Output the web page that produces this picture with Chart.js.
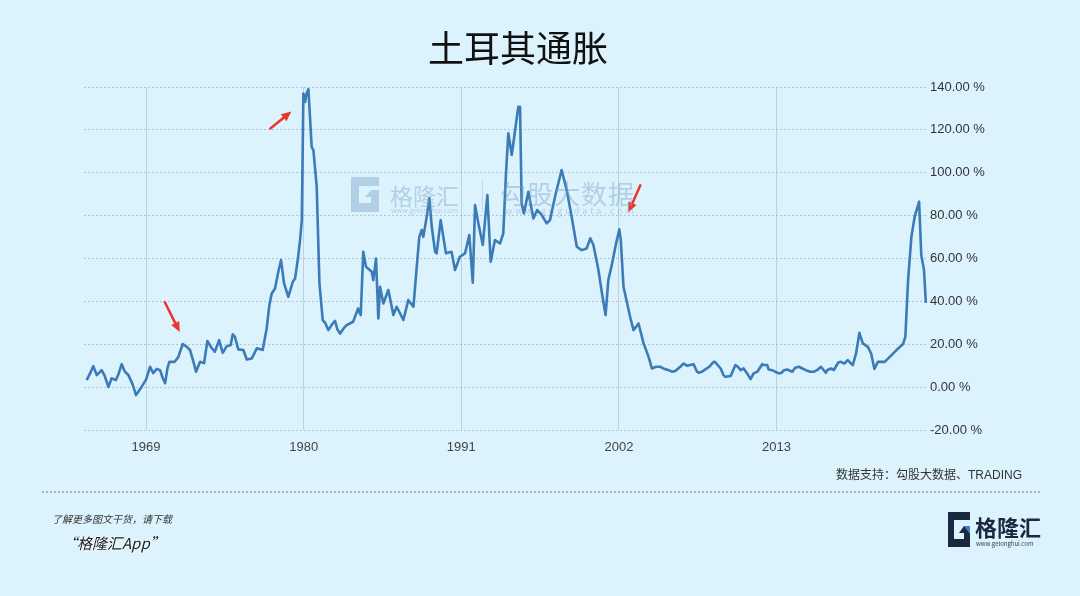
<!DOCTYPE html>
<html>
<head>
<meta charset="utf-8">
<script src="https://cdn.jsdelivr.net/npm/chart.js@4/dist/chart.umd.min.js"></script>
<style>
  body { margin: 0; background: #dcf3fd; }
  #wrap { position: relative; width: 1080px; height: 596px; overflow: hidden; background: #dcf3fd; font-family: "Noto Sans CJK SC", "Noto Sans", sans-serif; }
  #chart { position: absolute; left: 0; top: 0; }
  .abs { position: absolute; white-space: nowrap; }
  #title { left: 0; width: 1036px; top: 20px; text-align: center; font-size: 36px; color: #111; }
  #source { right: 58px; top: 465px; font-size: 12px; color: #333; font-family: "Liberation Sans", "Noto Sans CJK SC", sans-serif; }
  #sep { left: 42px; width: 998px; top: 491px; border-top: 2px dotted #aab4ba; }
  #more { left: 52px; top: 511px; font-size: 10px; font-style: italic; color: #333; }
  #app { left: 62px; top: 532px; font-size: 15px; font-style: italic; color: #222; text-shadow: 0 0 2px #fff, 0 0 2px #fff; }
  .wm { color: rgba(120, 160, 195, 0.42); }
</style>
</head>
<body>
<div id="wrap">
  <canvas id="chart" width="1080" height="596"></canvas>
  <div id="title" class="abs">土耳其通胀</div>

  <!-- watermark -->
  <svg class="abs" style="left:347px;top:177px" width="36" height="35" viewBox="0 0 36 35">
    <path d="M4 0 H32 V9 H12 V26 H24 V20 H18 L24 13 H32 V35 H4 Z" fill="rgba(120,160,195,0.42)"/>
  </svg>
  <div class="abs wm" style="left:390px;top:178px;font-size:23px">格隆汇</div>
  <div class="abs wm" style="left:391px;top:205px;font-size:7px">www.gelonghui.com</div>
  <div class="abs" style="left:482px;top:180px;width:1px;height:32px;background:rgba(120,160,195,0.3)"></div>
  <div class="abs wm" style="left:500px;top:174px;font-size:26px;letter-spacing:1px">勾股大数据</div>
  <div class="abs wm" style="left:505px;top:204px;font-size:9px;letter-spacing:3px">www.gogudata.com</div>

  <div id="source" class="abs">数据支持：勾股大数据、TRADING</div>
  <div id="sep" class="abs"></div>
  <div id="more" class="abs">了解更多图文干货，请下载</div>
  <div id="app" class="abs">“格隆汇App”</div>

  <!-- footer logo -->
  <svg class="abs" style="left:945px;top:512px" width="28" height="35" viewBox="0 0 28 35">
    <path d="M3 0 H25 V8 H9 V27 H19 V21 H14 L19 14 H25 V35 H3 Z" fill="#1c2740"/>
    <path d="M19 14 L25 14 L25 22 Z" fill="#3a7fd0"/>
  </svg>
  <div class="abs" style="left:975px;top:510px;font-size:22px;font-weight:bold;color:#1c2740">格隆汇</div>
  <div class="abs" style="left:976px;top:539px;font-size:6px;color:#444">www.gelonghui.com</div>
</div>

<script>
// Turkey CPI inflation, % y/y
const years = [
  1964.86, 1965.10, 1965.32, 1965.56, 1965.90, 1966.10, 1966.37, 1966.60, 1966.90, 1967.10,
  1967.30, 1967.50, 1967.77, 1968.05, 1968.30, 1968.70, 1969.00, 1969.28, 1969.50, 1969.75,
  1969.98, 1970.15, 1970.33, 1970.50, 1970.63, 1971.00, 1971.25, 1971.56, 1971.80, 1972.07,
  1972.30, 1972.49, 1972.77, 1973.05, 1973.28, 1973.55, 1973.80, 1974.10, 1974.35, 1974.63,
  1974.90, 1975.05, 1975.20, 1975.44, 1975.79, 1976.03, 1976.38, 1976.73, 1977.14, 1977.42,
  1977.60, 1977.77, 1978.00, 1978.23, 1978.42, 1978.63, 1978.93, 1979.24, 1979.40, 1979.60,
  1979.75, 1979.87, 1979.98, 1980.10, 1980.20, 1980.33, 1980.56, 1980.68, 1980.91, 1981.10,
  1981.33, 1981.50, 1981.72, 1981.95, 1982.19, 1982.35, 1982.54, 1982.80, 1983.00, 1983.45,
  1983.80, 1983.98, 1984.16, 1984.35, 1984.55, 1984.75, 1984.86, 1985.05, 1985.21, 1985.33,
  1985.56, 1985.91, 1986.26, 1986.49, 1986.96, 1987.30, 1987.66, 1987.89, 1988.07, 1988.24,
  1988.35, 1988.60, 1988.77, 1988.94, 1989.17, 1989.28, 1989.56, 1989.93, 1990.32, 1990.56,
  1990.90, 1991.26, 1991.56, 1991.80, 1991.96, 1992.19, 1992.50, 1992.82, 1993.05, 1993.35,
  1993.70, 1993.93, 1994.12, 1994.28, 1994.52, 1994.98, 1995.10, 1995.21, 1995.37, 1995.68,
  1996.03, 1996.30, 1996.61, 1996.96, 1997.19, 1997.54, 1998.00, 1998.36, 1998.70, 1999.06,
  1999.40, 1999.75, 2000.00, 2000.22, 2000.56, 2000.80, 2001.07, 2001.26, 2001.50, 2001.80,
  2002.03, 2002.13, 2002.32, 2002.55, 2002.78, 2003.02, 2003.37, 2003.72, 2004.07, 2004.30,
  2004.60, 2004.88, 2005.10, 2005.47, 2005.70, 2005.93, 2006.28, 2006.52, 2006.75, 2007.21,
  2007.45, 2007.56, 2007.80, 2008.30, 2008.61, 2008.70, 2009.10, 2009.30, 2009.43, 2009.80,
  2010.13, 2010.30, 2010.50, 2010.70, 2010.95, 2011.19, 2011.40, 2011.66, 2012.00, 2012.10,
  2012.35, 2012.45, 2012.70, 2012.90, 2013.17, 2013.35, 2013.52, 2013.75, 2014.10, 2014.30,
  2014.57, 2014.80, 2015.05, 2015.35, 2015.63, 2015.85, 2016.10, 2016.44, 2016.55, 2016.80,
  2017.00, 2017.31, 2017.50, 2017.73, 2017.97, 2018.20, 2018.32, 2018.55, 2018.78, 2019.02,
  2019.37, 2019.60, 2019.83, 2020.07, 2020.55, 2020.90, 2021.37, 2021.83, 2021.99, 2022.18,
  2022.41, 2022.64, 2022.95, 2023.10, 2023.29, 2023.42
];
const inflation = [
  3.3, 6.5, 9.8, 5.6, 7.9, 5.5, 0.1, 4.1, 3.3, 6.5,
  10.7, 7.5, 5.6, 1.5, -3.7, 0.2, 3.5, 9.5, 6.5, 8.5,
  7.9, 4.5, 1.8, 9.0, 11.8, 11.8, 14.0, 20.1, 19.0, 17.3,
  12.0, 7.2, 11.8, 11.2, 21.5, 18.5, 16.5, 21.9, 16.0, 19.1,
  19.5, 24.6, 23.5, 17.6, 17.3, 12.9, 13.4, 18.1, 17.3, 27.4,
  38.0, 43.7, 46.0, 53.8, 59.3, 48.4, 42.1, 49.1, 50.7, 60.0,
  68.6, 77.9, 137.0, 133.0, 137.0, 139.0, 112.0, 110.6, 93.5, 48.4,
  31.3, 30.0, 26.6, 29.0, 30.9, 27.0, 25.0, 27.5, 28.9, 30.5,
  36.7, 33.6, 63.1, 56.1, 55.0, 53.8, 49.9, 60.0, 32.0, 46.8,
  39.0, 45.3, 33.6, 37.5, 31.3, 40.6, 37.5, 56.1, 70.1, 73.3,
  70.1, 80.0, 88.1, 74.8, 63.1, 62.4, 77.9, 62.4, 63.1, 54.6,
  60.8, 62.4, 70.9, 48.7, 84.9, 76.4, 66.3, 89.6, 58.5, 68.6,
  67.0, 71.7, 99.7, 118.4, 108.3, 130.8, 130.8, 85.7, 81.0, 91.1,
  78.7, 82.6, 80.3, 76.4, 77.9, 88.8, 101.3, 91.9, 79.5, 65.5,
  63.9, 64.7, 69.4, 66.3, 55.0, 44.5, 33.6, 49.9, 56.9, 67.0,
  73.6, 68.6, 46.8, 39.8, 32.8, 26.6, 29.7, 20.4, 14.1, 8.7,
  9.5, 9.5, 8.7, 7.9, 7.2, 7.5, 9.5, 11.0, 10.0, 10.7,
  7.2, 6.7, 7.2, 9.5, 11.8, 11.8, 8.7, 5.6, 4.8, 5.2,
  10.3, 9.5, 7.9, 8.7, 6.4, 3.7, 6.4, 7.2, 10.7, 10.3,
  10.3, 8.2, 7.9, 7.2, 6.4, 6.7, 7.9, 8.2, 7.2, 9.0,
  9.5, 8.7, 7.9, 7.2, 7.2, 8.0, 9.5, 6.7, 8.0, 8.7,
  8.0, 11.5, 11.8, 11.0, 12.6, 11.0, 10.3, 15.7, 25.3, 20.4,
  18.8, 15.7, 8.5, 11.8, 11.8, 14.1, 17.3, 20.1, 23.5, 49.9,
  70.1, 79.5, 86.5, 61.6, 54.6, 39.3
];
const tickYears = [1969, 1980, 1991, 2002, 2013];
const yTicks = [-20, 0, 20, 40, 60, 80, 100, 120, 140];

// red arrows: point on the series, then tip / tail offsets in px
const arrows = [
  { at: [1971.56, 20.1], tip: [-3, -12], tail: [-18, -42] },
  { at: [1979.98, 137], tip: [-12, 18], tail: [-33, 35] },
  { at: [2002.03, 73.6], tip: [9, -17], tail: [21, -44] }
];

const arrowPlugin = {
  id: `arrows`,
  afterDatasetsDraw(chart) {
    const ctx = chart.ctx;
    const xs = chart.scales.x;
    const ys = chart.scales.y;
    ctx.save();
    ctx.strokeStyle = `#e8372c`;
    ctx.fillStyle = `#e8372c`;
    ctx.lineWidth = 2.5;
    ctx.lineCap = `round`;
    arrows.forEach(a => {
      const px = xs.getPixelForValue(a.at[0]);
      const py = ys.getPixelForValue(a.at[1]);
      const tx = px + a.tip[0], ty = py + a.tip[1];
      const sx = px + a.tail[0], sy = py + a.tail[1];
      const ang = Math.atan2(ty - sy, tx - sx);
      const hl = 10, hw = 4.5;
      const bx = tx - hl * Math.cos(ang), by = ty - hl * Math.sin(ang);
      ctx.beginPath();
      ctx.moveTo(sx, sy);
      ctx.lineTo(bx, by);
      ctx.stroke();
      ctx.beginPath();
      ctx.moveTo(tx, ty);
      ctx.lineTo(bx + hw * Math.sin(ang), by - hw * Math.cos(ang));
      ctx.lineTo(bx - hw * Math.sin(ang), by + hw * Math.cos(ang));
      ctx.closePath();
      ctx.fill();
    });
    ctx.restore();
  }
};

new Chart(document.getElementById(`chart`), {
  type: `line`,
  data: {
    datasets: [{
      label: `土耳其通胀`,
      data: years.map((x, i) => ({ x: x, y: inflation[i] })),
      borderColor: `#3b7bb8`,
      borderWidth: 2.6,
      borderJoinStyle: `round`,
      pointRadius: 0,
      tension: 0,
      fill: false,
      clip: 10
    }]
  },
  options: {
    responsive: false,
    animation: false,
    layout: { padding: { left: 84, top: 87, right: 0, bottom: 136 } },
    plugins: { legend: { display: false }, tooltip: { enabled: false } },
    scales: {
      x: {
        type: `linear`,
        min: 1964.67,
        max: 2023.43,
        afterBuildTicks: scale => { scale.ticks = tickYears.map(v => ({ value: v })); },
        afterFit: scale => { scale.height = 30; },
        grid: { color: `rgba(160, 178, 190, 0.55)`, lineWidth: 1, drawTicks: false },
        border: { display: false },
        ticks: {
          padding: 10,
          maxRotation: 0,
          color: `#444`,
          font: { family: `"Liberation Sans", Arial, sans-serif`, size: 13 },
          callback: v => String(v)
        }
      },
      y: {
        position: `right`,
        min: -20,
        max: 140,
        afterBuildTicks: scale => { scale.ticks = yTicks.map(v => ({ value: v })); },
        afterFit: scale => { scale.width = 154; },
        grid: { color: `rgba(160, 178, 190, 0.7)`, lineWidth: 1, drawTicks: false },
        border: { display: false, dash: [2, 2] },
        ticks: {
          padding: 4,
          color: `#333`,
          font: { family: `"Liberation Sans", Arial, sans-serif`, size: 13 },
          callback: v => v.toFixed(2) + ` %`
        }
      }
    }
  },
  plugins: [arrowPlugin]
});
</script>
</body>
</html>
